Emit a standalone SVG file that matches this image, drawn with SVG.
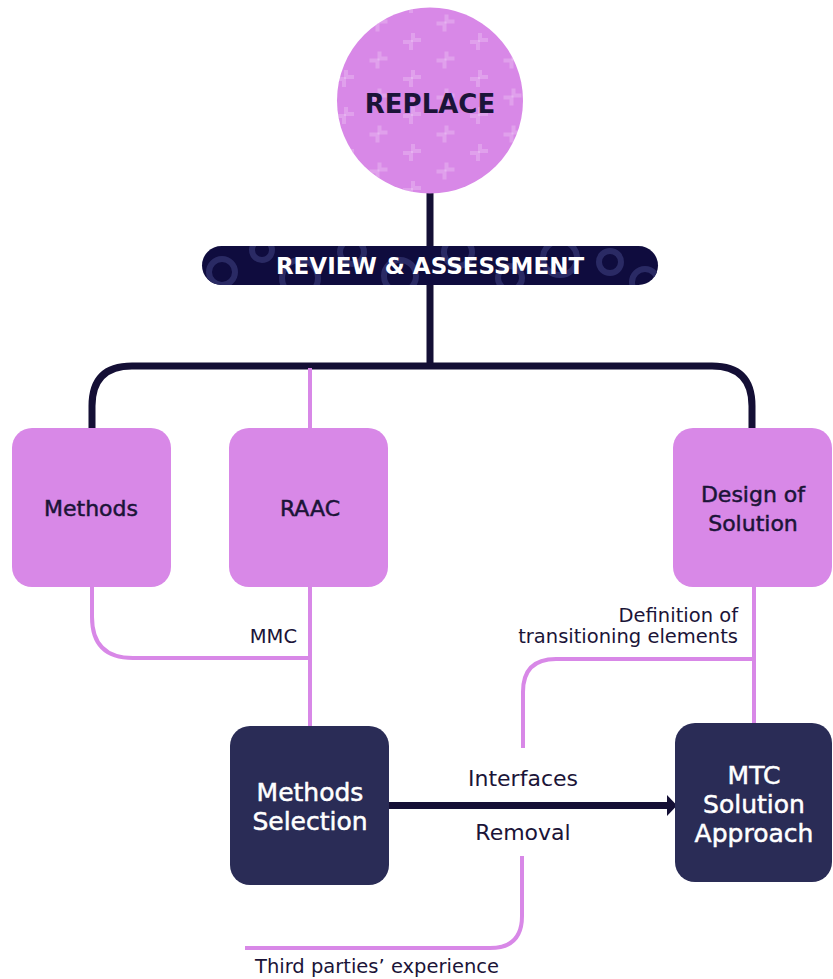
<svg xmlns="http://www.w3.org/2000/svg" width="833" height="979" viewBox="0 0 833 979">
  <defs>
    <style>
      .pink { fill: #d888e7; }
      .navy { fill: #2a2c56; }
      .wire-dark { fill: none; stroke: #140f35; stroke-width: 7; }
      .wire-pink { fill: none; stroke: #d888e7; stroke-width: 4; }
      .t-dark { fill: #1b1438; font-family: "DejaVu Sans", "Liberation Sans", sans-serif; text-anchor: middle; }
      .t-light { fill: #ffffff; font-family: "DejaVu Sans", "Liberation Sans", sans-serif; text-anchor: middle; }
      .node-label { font-size: 22px; stroke: #1b1438; stroke-width: 0.5px; }
      .node-label-w { font-size: 25px; stroke: #ffffff; stroke-width: 0.5px; }
      .edge-label { fill: #1b1438; font-family: "DejaVu Sans", sans-serif; font-size: 19.5px; }
      .edge-label-m { fill: #1b1438; font-family: "DejaVu Sans", sans-serif; font-size: 22px; text-anchor: middle; }
    </style>
    <pattern id="plusTile" patternUnits="userSpaceOnUse" width="67" height="37" x="10" y="4">
      <g fill="none" stroke="#ffffff" stroke-opacity="0.2" stroke-width="4">
        <path d="M1,-8 V-1 H9"/>
        <path d="M-9,1 H-1 V9"/>
        <path d="M68,-8 V-1 H76"/>
        <path d="M58,1 H66 V9"/>
        <path d="M68,29 V36 H76"/>
        <path d="M58,38 H66 V46"/>
        <path d="M1,29 V36 H9"/>
        <path d="M-9,38 H-1 V46"/>
        <path d="M34.5,10.5 V17.5 H42.5"/>
        <path d="M24.5,19.5 H32.5 V27.5"/>
      </g>
    </pattern>
    <clipPath id="pillClip">
      <rect x="202" y="246" width="456" height="39" rx="19.5"/>
    </clipPath>
  </defs>

  <!-- connectors -->
  <g id="connectors">
    <path class="wire-dark" d="M430,190 V366"/>
    <path class="wire-dark" d="M92,430 V406 Q92,366 132,366 H712 Q752,366 752,406 V430"/>
    <path class="wire-pink" d="M310,368 V430"/>
    <path class="wire-pink" d="M310,585 V728"/>
    <path class="wire-pink" d="M92,585 V617 Q92,658 133,658 H310"/>
    <path class="wire-pink" d="M754,585 V725"/>
    <path class="wire-pink" d="M754,659 H556 Q523,659 523,692 V748"/>
    <path class="wire-pink" d="M522,856 V916 Q522,948 490,948 H245"/>
    <path class="wire-dark" d="M388,805.5 H669"/>
    <polygon points="667,795 677,805.5 667,816" fill="#140f35"/>
  </g>

  <!-- edge labels -->
  <g id="edge-labels">
    <text class="edge-label" x="297" y="643" text-anchor="end">MMC</text>
    <text class="edge-label" x="738" y="622" text-anchor="end">Definition of</text>
    <text class="edge-label" x="738" y="643" text-anchor="end">transitioning elements</text>
    <text class="edge-label-m" x="523" y="786">Interfaces</text>
    <text class="edge-label-m" x="523" y="840">Removal</text>
    <text class="edge-label" x="255" y="973">Third parties’ experience</text>
  </g>

  <!-- top circle -->
  <g id="replace">
    <circle class="pink" cx="430" cy="100.5" r="93"/>
    <circle cx="430" cy="100.5" r="93" fill="url(#plusTile)"/>
    <text class="t-dark" x="430" y="113" font-size="26" font-weight="bold">REPLACE</text>
  </g>

  <!-- review bar -->
  <g id="review">
    <rect x="202" y="246" width="456" height="39" rx="19.5" fill="#0f0c3e"/>
    <g clip-path="url(#pillClip)" fill="none" stroke="#2a2a64" stroke-width="6">
      <circle cx="222" cy="272" r="13"/>
      <circle cx="262" cy="250" r="10"/>
      <circle cx="300" cy="278" r="18"/>
      <circle cx="352" cy="252" r="12"/>
      <circle cx="400" cy="276" r="16"/>
      <circle cx="458" cy="252" r="14"/>
      <circle cx="510" cy="278" r="12"/>
      <circle cx="560" cy="258" r="17"/>
      <circle cx="610" cy="262" r="11"/>
      <circle cx="645" cy="282" r="13"/>
    </g>
    <text class="t-light" x="430" y="274" font-size="23" font-weight="bold">REVIEW &amp; ASSESSMENT</text>
  </g>

  <!-- pink nodes -->
  <g id="methods">
    <rect class="pink" x="12" y="428" width="159" height="159" rx="20"/>
    <text class="t-dark node-label" x="91" y="516">Methods</text>
  </g>
  <g id="raac">
    <rect class="pink" x="229" y="428" width="159" height="159" rx="20"/>
    <text class="t-dark node-label" x="310" y="516">RAAC</text>
  </g>
  <g id="design">
    <rect class="pink" x="673" y="428" width="159" height="159" rx="20"/>
    <text class="t-dark node-label" x="753" y="502">Design of</text>
    <text class="t-dark node-label" x="753" y="531">Solution</text>
  </g>

  <!-- navy nodes -->
  <g id="methods-selection">
    <rect class="navy" x="230" y="726" width="159" height="159" rx="20"/>
    <text class="t-light node-label-w" x="310" y="801">Methods</text>
    <text class="t-light node-label-w" x="310" y="830">Selection</text>
  </g>
  <g id="mtc">
    <rect class="navy" x="675" y="723" width="157" height="159" rx="20"/>
    <text class="t-light node-label-w" x="754" y="784">MTC</text>
    <text class="t-light node-label-w" x="754" y="813">Solution</text>
    <text class="t-light node-label-w" x="754" y="842">Approach</text>
  </g>
</svg>
